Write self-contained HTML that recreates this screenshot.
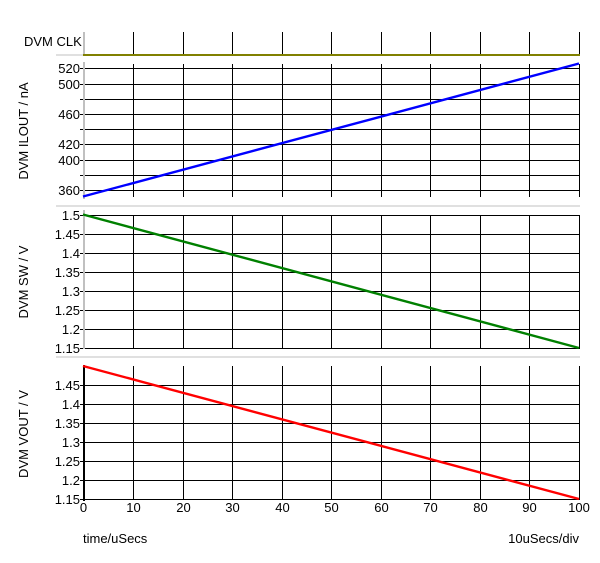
<!DOCTYPE html>
<html><head><meta charset="utf-8"><style>
html,body{margin:0;padding:0;background:#fff;}
svg{display:block;}
text{font-family:"Liberation Sans",Arial,sans-serif;font-size:13px;fill:#000;}
</style></head><body>
<svg width="600" height="563" viewBox="0 0 600 563" xmlns="http://www.w3.org/2000/svg">
<rect width="600" height="563" fill="#fff"/>
<!-- CLK panel -->
<g stroke="#000" stroke-width="1">
<line x1="133.5" y1="32" x2="133.5" y2="54"/><line x1="183.5" y1="32" x2="183.5" y2="54"/>
<line x1="232.5" y1="32" x2="232.5" y2="54"/><line x1="282.5" y1="32" x2="282.5" y2="54"/>
<line x1="331.5" y1="32" x2="331.5" y2="54"/><line x1="381.5" y1="32" x2="381.5" y2="54"/>
<line x1="430.5" y1="32" x2="430.5" y2="54"/><line x1="480.5" y1="32" x2="480.5" y2="54"/>
<line x1="529.5" y1="32" x2="529.5" y2="54"/><line x1="579.5" y1="32" x2="579.5" y2="54"/>
</g>
<rect x="56" y="54.5" width="27" height="1" fill="#c0c0c0"/>
<rect x="83" y="32" width="2" height="23" fill="#c0c0c0"/>
<rect x="83" y="54" width="497" height="2" fill="#808000"/>
<text x="24" y="46">DVM CLK</text>

<!-- ILOUT panel -->
<g stroke="#000" stroke-width="1">
<line x1="133.5" y1="64" x2="133.5" y2="197"/><line x1="183.5" y1="64" x2="183.5" y2="197"/>
<line x1="232.5" y1="64" x2="232.5" y2="197"/><line x1="282.5" y1="64" x2="282.5" y2="197"/>
<line x1="331.5" y1="64" x2="331.5" y2="197"/><line x1="381.5" y1="64" x2="381.5" y2="197"/>
<line x1="430.5" y1="64" x2="430.5" y2="197"/><line x1="480.5" y1="64" x2="480.5" y2="197"/>
<line x1="529.5" y1="64" x2="529.5" y2="197"/><line x1="579.5" y1="64" x2="579.5" y2="197"/>
<line x1="80" y1="68.5" x2="580" y2="68.5"/><line x1="80" y1="84.5" x2="580" y2="84.5"/>
<line x1="80" y1="99.5" x2="580" y2="99.5"/><line x1="80" y1="114.5" x2="580" y2="114.5"/>
<line x1="80" y1="129.5" x2="580" y2="129.5"/><line x1="80" y1="144.5" x2="580" y2="144.5"/>
<line x1="80" y1="160.5" x2="580" y2="160.5"/><line x1="80" y1="175.5" x2="580" y2="175.5"/>
<line x1="80" y1="190.5" x2="580" y2="190.5"/>
</g>
<rect x="83" y="62" width="2" height="137" fill="#c0c0c0"/>
<line x1="83" y1="196.5" x2="579" y2="63.5" stroke="#0000ff" stroke-width="2.4"/>
<rect x="56" y="205.5" width="524" height="1" fill="#c0c0c0"/>
<g text-anchor="end" dominant-baseline="central">
<text x="80" y="68.5">520</text><text x="80" y="84.5">500</text><text x="80" y="114.5">460</text>
<text x="80" y="144.5">420</text><text x="80" y="160.5">400</text><text x="80" y="190.5">360</text>
</g>
<text transform="translate(28,131) rotate(-90)" text-anchor="middle">DVM ILOUT / nA</text>

<!-- SW panel -->
<g stroke="#000" stroke-width="1">
<line x1="133.5" y1="215" x2="133.5" y2="348"/><line x1="183.5" y1="215" x2="183.5" y2="348"/>
<line x1="232.5" y1="215" x2="232.5" y2="348"/><line x1="282.5" y1="215" x2="282.5" y2="348"/>
<line x1="331.5" y1="215" x2="331.5" y2="348"/><line x1="381.5" y1="215" x2="381.5" y2="348"/>
<line x1="430.5" y1="215" x2="430.5" y2="348"/><line x1="480.5" y1="215" x2="480.5" y2="348"/>
<line x1="529.5" y1="215" x2="529.5" y2="348"/><line x1="579.5" y1="215" x2="579.5" y2="348"/>
<line x1="80" y1="215.5" x2="580" y2="215.5"/><line x1="80" y1="234.5" x2="580" y2="234.5"/>
<line x1="80" y1="253.5" x2="580" y2="253.5"/><line x1="80" y1="272.5" x2="580" y2="272.5"/>
<line x1="80" y1="291.5" x2="580" y2="291.5"/><line x1="80" y1="310.5" x2="580" y2="310.5"/>
<line x1="80" y1="329.5" x2="580" y2="329.5"/><line x1="80" y1="348.5" x2="580" y2="348.5"/>
</g>
<rect x="83" y="210" width="2" height="139" fill="#c0c0c0"/>
<line x1="83" y1="214.5" x2="579" y2="348" stroke="#008000" stroke-width="2.4"/>
<rect x="56" y="356.5" width="524" height="1" fill="#c0c0c0"/>
<g text-anchor="end" dominant-baseline="central">
<text x="80" y="215.5">1.5</text><text x="80" y="234.5">1.45</text><text x="80" y="253.5">1.4</text>
<text x="80" y="272.5">1.35</text><text x="80" y="291.5">1.3</text><text x="80" y="310.5">1.25</text>
<text x="80" y="329.5">1.2</text><text x="80" y="348.5">1.15</text>
</g>
<text transform="translate(28,282) rotate(-90)" text-anchor="middle">DVM SW / V</text>

<!-- VOUT panel -->
<g stroke="#000" stroke-width="1">
<line x1="133.5" y1="366" x2="133.5" y2="500"/><line x1="183.5" y1="366" x2="183.5" y2="500"/>
<line x1="232.5" y1="366" x2="232.5" y2="500"/><line x1="282.5" y1="366" x2="282.5" y2="500"/>
<line x1="331.5" y1="366" x2="331.5" y2="500"/><line x1="381.5" y1="366" x2="381.5" y2="500"/>
<line x1="430.5" y1="366" x2="430.5" y2="500"/><line x1="480.5" y1="366" x2="480.5" y2="500"/>
<line x1="529.5" y1="366" x2="529.5" y2="500"/><line x1="579.5" y1="366" x2="579.5" y2="500"/>
<line x1="80" y1="385.5" x2="580" y2="385.5"/><line x1="80" y1="404.5" x2="580" y2="404.5"/>
<line x1="80" y1="423.5" x2="580" y2="423.5"/><line x1="80" y1="442.5" x2="580" y2="442.5"/>
<line x1="80" y1="461.5" x2="580" y2="461.5"/><line x1="80" y1="480.5" x2="580" y2="480.5"/>
<line x1="80" y1="499.5" x2="580" y2="499.5"/>
</g>
<rect x="83" y="365" width="2" height="136" fill="#000"/>
<line x1="83" y1="366" x2="579" y2="499" stroke="#ff0000" stroke-width="2.4"/>
<g text-anchor="end" dominant-baseline="central">
<text x="80" y="385.5">1.45</text><text x="80" y="404.5">1.4</text><text x="80" y="423.5">1.35</text>
<text x="80" y="442.5">1.3</text><text x="80" y="461.5">1.25</text><text x="80" y="480.5">1.2</text>
<text x="80" y="499.5">1.15</text>
</g>
<text transform="translate(28,434) rotate(-90)" text-anchor="middle">DVM VOUT / V</text>

<!-- x axis labels -->
<g text-anchor="middle">
<text x="83.5" y="512">0</text><text x="133.5" y="512">10</text><text x="183.5" y="512">20</text>
<text x="232.5" y="512">30</text><text x="282.5" y="512">40</text><text x="331.5" y="512">50</text>
<text x="381.5" y="512">60</text><text x="430.5" y="512">70</text><text x="480.5" y="512">80</text>
<text x="529.5" y="512">90</text><text x="579" y="512">100</text>
</g>
<text x="83" y="543">time/uSecs</text>
<text x="579" y="543" text-anchor="end">10uSecs/div</text>
</svg>
</body></html>
